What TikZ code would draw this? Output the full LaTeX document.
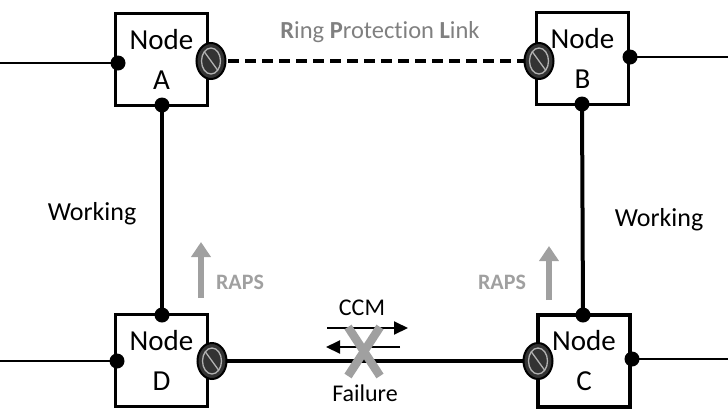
\documentclass[tikz,border=0pt]{standalone}
\usepackage{fontspec}
\setmainfont{Carlito}[Ligatures=NoCommon]
\usetikzlibrary{arrows.meta,shapes.geometric}
\definecolor{raps}{HTML}{A0A0A0}
\definecolor{rpl}{HTML}{808080}
\begin{document}
\begin{tikzpicture}[x=1pt,y=-1pt,
  box/.style={draw, line width=3.5pt, minimum width=92pt, minimum height=92pt, inner sep=0pt, align=center, font=\fontsize{29}{40}\selectfont},
  dot/.style={circle, fill=black, inner sep=0pt, minimum size=15pt},
  prot/.style={ellipse, draw=black, line width=2pt, fill=black!80, minimum width=29pt, minimum height=36pt, inner sep=0pt,
    path picture={\draw[black!30, line width=1.3pt] (path picture bounding box.center) ellipse [x radius=9.5, y radius=13];
      \draw[black!30, line width=1.3pt] ([shift={(-6.5,-9)}]path picture bounding box.center) -- ([shift={(6.5,9)}]path picture bounding box.center);}},
  thinline/.style={line width=2pt},
  thickline/.style={line width=4pt},
  rapsarrow/.style={raps, line width=5.5pt, -{Triangle[length=15pt,width=19pt]}},
  ccmarrow/.style={line width=2pt, -{Triangle[length=14pt,width=13pt]}},
  lbl/.style={font=\fontsize{26}{30}\selectfont, inner sep=0pt},
  smlbl/.style={font=\fontsize{24}{28}\selectfont, inner sep=0pt},
  rapslbl/.style={font=\fontsize{22}{26}\selectfont\bfseries, text=raps, inner sep=0pt}]
\useasboundingbox (0,0) rectangle (728,408);

% boxes
\node[box] (A) at (161.5,59.5) {Node\\A};
\node[box] (B) at (582.5,58.5) {Node\\B};
\node[box] (D) at (161.5,360.5) {Node\\D};
\node[box] (C) at (584,361) {Node\\C};

% dots
\node[dot] (Al) at (118,63) {};
\node[dot] (Ab) at (162,105) {};
\node[dot] (Br) at (630,57) {};
\node[dot] (Bb) at (582,104) {};
\node[dot] (Dt) at (162,315) {};
\node[dot] (Dl) at (117,361) {};
\node[dot] (Ct) at (583,315) {};
\node[dot] (Cr) at (632,359) {};

% free ends
\coordinate (Ae) at (0,63);
\coordinate (Be) at (728,57);
\coordinate (De) at (0,361);
\coordinate (Ce) at (728,359);

% protection symbol positions
\coordinate (Ap) at (211,61);
\coordinate (Bp) at (539,61);
\coordinate (Dp) at (212,361);
\coordinate (Cp) at (538,361);

% connectors
\draw[thinline] (Ae) -- (Al.center);
\draw[thinline] (Br.center) -- (Be);
\draw[thinline] (De) -- (Dl.center);
\draw[thinline] (Cr.center) -- (Ce);
\draw[thickline] (Ab.center) -- (Dt.center);
\draw[thickline] (Bb.center) -- (Ct.center);
\draw[thickline, dash pattern=on 11pt off 6pt] (Ap) -- (Bp);
\draw[thickline] (Dp) -- (Cp);

% protection symbols
\node[prot] (pA) at (Ap) {};
\node[prot] (pB) at (Bp) {};
\node[prot] (pD) at (Dp) {};
\node[prot] (pC) at (Cp) {};

% labels
\node[font=\fontsize{24.5}{28}\selectfont, text=rpl, inner sep=0pt] (rpl) at (380,32) {\textbf{R}ing \textbf{P}rotection \textbf{L}ink};
\node[lbl] (w1) at (92,214) {Working};
\node[lbl] (w2) at (659,220) {Working};

% RAPS arrows
\coordinate (r1s) at (201,298);
\coordinate (r1e) at (201,242);
\coordinate (r2s) at (549,300);
\coordinate (r2e) at (549,246);
\draw[rapsarrow] (r1s) -- (r1e);
\draw[rapsarrow] (r2s) -- (r2e);
\node[rapslbl] (rl1) at (240,282) {RAPS};
\node[rapslbl] (rl2) at (502,282) {RAPS};

% CCM
\node[smlbl] (ccm) at (362,308) {CCM};
\coordinate (c1s) at (327,328);
\coordinate (c1e) at (408,328);
\coordinate (c2s) at (400,347);
\coordinate (c2e) at (326,347);
\draw[ccmarrow] (c1s) -- (c1e);
\draw[ccmarrow] (c2s) -- (c2e);
\node[smlbl] (fail) at (365,393) {Failure};

% failure X
\coordinate (x1) at (348,327);
\coordinate (x2) at (380,376);
\coordinate (x3) at (380,327);
\coordinate (x4) at (348,376);
\draw[raps, line width=8.5pt] (x1) -- (x2);
\draw[raps, line width=8.5pt] (x3) -- (x4);
\end{tikzpicture}
\end{document}
